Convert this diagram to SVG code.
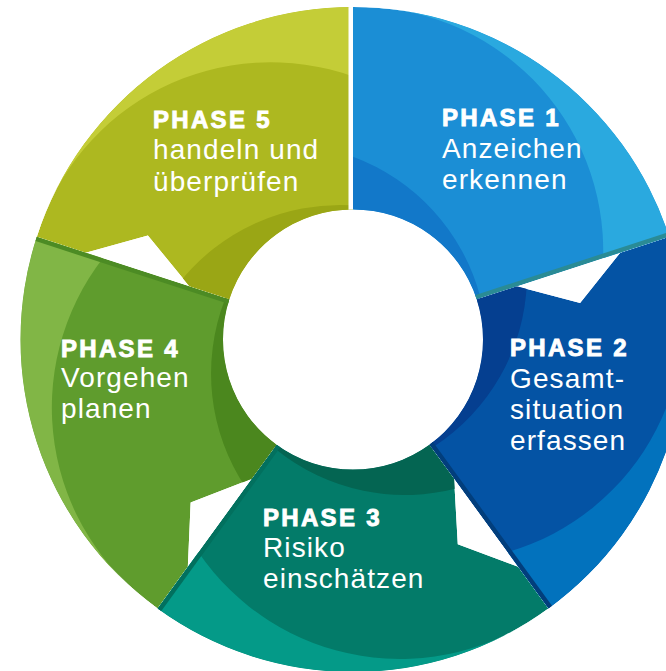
<svg xmlns="http://www.w3.org/2000/svg" xmlns:xlink="http://www.w3.org/1999/xlink" width="666" height="671" viewBox="0 0 666 671">
<style>
.h{font-family:"Liberation Sans",Arial,sans-serif;font-weight:bold;font-size:24px;letter-spacing:2.3px;fill:#fff;stroke:#fff;stroke-width:0.9px}
.t{font-family:"Liberation Sans",Arial,sans-serif;font-size:28px;letter-spacing:1.1px;fill:#fff}
</style>
<defs>
<path id="seg1" d="M353 7A332.5 332.5 0 0 1 669.23 236.75L476.64 299.33A130 130 0 0 0 353 209.5Z"/>
<path id="segN" d="M353 7A332.5 332.5 0 0 1 669.23 236.75L476.64 299.33A130 130 0 0 0 353 209.5L353 167.5L388.58 112.27L353 58.5Z"/>
<clipPath id="c1"><use xlink:href="#seg1"/></clipPath>
<clipPath id="cN"><use xlink:href="#segN"/></clipPath>
<path id="inner" d="M353 339.5L320 150L353 156.7A205 205 0 0 1 480 296L500 320Z"/>
<path id="outer" d="M354 6.86A244 244 0 0 1 603.1 258.2L700 250L700 -30L340 -30L340 6.86Z"/>
<path id="strip" d="M467.13 302.42L681.12 232.89L679.72 228.61L465.73 298.14Z"/>
</defs>
<g id="phase1">
<g clip-path="url(#c1)">
<use xlink:href="#seg1" fill="#1b8ed5"/>
<use xlink:href="#inner" fill="#1278c9"/>
<use xlink:href="#outer" fill="#2aa9df"/>
<use xlink:href="#strip" fill="#2a8b95"/>
</g>
<text class="h" x="442" y="126">PHASE 1</text>
<text class="t" x="442" y="157.5">Anzeichen</text>
<text class="t" x="442" y="189">erkennen</text>
</g>
<g id="phase2">
<g transform="rotate(72 353 339.5)"><g clip-path="url(#cN)">
<use xlink:href="#segN" fill="#0453a4"/>
<use xlink:href="#inner" fill="#053f90"/>
<use xlink:href="#outer" fill="#0272bd"/>
<use xlink:href="#strip" fill="#023e7c"/>
</g></g>
<text class="h" x="510" y="356">PHASE 2</text>
<text class="t" x="510" y="387.5">Gesamt-</text>
<text class="t" x="510" y="419">situation</text>
<text class="t" x="510" y="450">erfassen</text>
</g>
<g id="phase3">
<g transform="rotate(144 353 339.5)"><g clip-path="url(#cN)">
<use xlink:href="#segN" fill="#037b69"/>
<use xlink:href="#inner" fill="#046552"/>
<use xlink:href="#outer" fill="#049a88"/>
<use xlink:href="#strip" fill="#02705e"/>
</g></g>
<text class="h" x="263" y="526">PHASE 3</text>
<text class="t" x="263" y="557">Risiko</text>
<text class="t" x="263" y="588">einschätzen</text>
</g>
<g id="phase4">
<g transform="rotate(216 353 339.5)"><g clip-path="url(#cN)">
<use xlink:href="#segN" fill="#5f9c2d"/>
<use xlink:href="#inner" fill="#4b871e"/>
<use xlink:href="#outer" fill="#81b646"/>
<use xlink:href="#strip" fill="#4c8b24"/>
</g></g>
<text class="h" x="61" y="356.5">PHASE 4</text>
<text class="t" x="61" y="387">Vorgehen</text>
<text class="t" x="61" y="418">planen</text>
</g>
<g id="phase5">
<g transform="rotate(288 353 339.5)"><g clip-path="url(#cN)">
<use xlink:href="#segN" fill="#adb820"/>
<use xlink:href="#inner" fill="#9aa615"/>
<use xlink:href="#outer" fill="#c4cd37"/>
<use xlink:href="#strip" fill="#ffffff"/>
</g></g>
<text class="h" x="153" y="128">PHASE 5</text>
<text class="t" x="153" y="159">handeln und</text>
<text class="t" x="153" y="190.5">überprüfen</text>
</g>
<g id="connectors"></g>
</svg>
